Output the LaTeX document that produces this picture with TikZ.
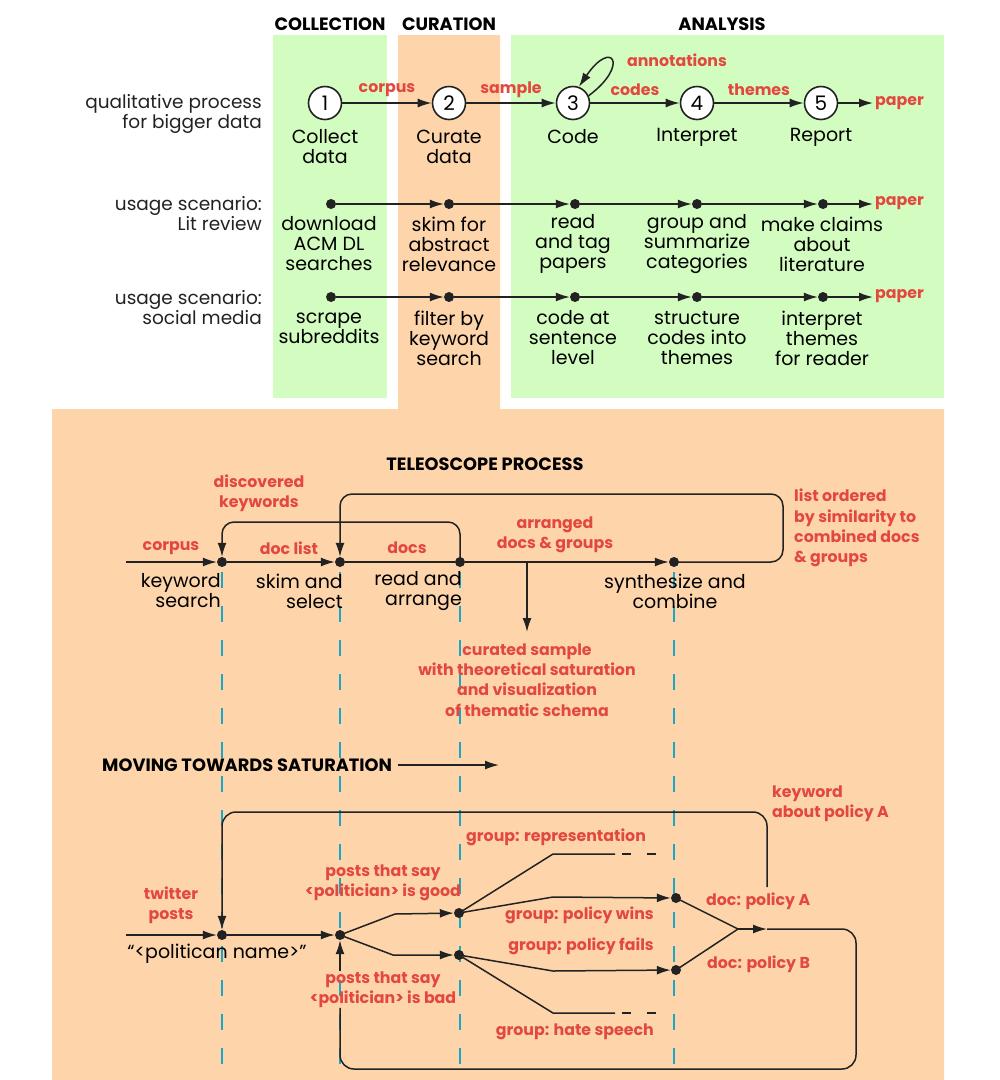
\documentclass[tikz,border=0pt]{standalone}
\usepackage{fontspec}
\setmainfont{Poppins}
\usetikzlibrary{arrows.meta}
\definecolor{grn}{HTML}{D3FCC0}
\definecolor{org}{HTML}{FED5AB}
\definecolor{rd}{HTML}{E2483F}
\definecolor{cy}{HTML}{1BA6C6}
\definecolor{ink}{HTML}{222222}
\tikzset{
  txt/.style={font=\fontsize{19}{20}\selectfont, align=center, inner sep=0pt, text=black},
  side/.style={font=\fontsize{18.5}{20}\selectfont, align=right, inner sep=0pt, anchor=east, text=ink},
  lbl/.style={font=\fontsize{15.8}{20.3}\selectfont\bfseries, text=rd, inner sep=0pt, align=center},
  hdr/.style={font=\fontsize{17.8}{20}\selectfont\bfseries, inner sep=0pt, text=black},
  circ/.style={circle, draw=ink, line width=1.6pt, fill=white, minimum size=33pt, inner sep=0pt, font=\fontsize{20}{20}\selectfont},
  dot/.style={circle, fill=ink, minimum size=10pt, inner sep=0pt},
  arr/.style={draw=ink, -{Latex[length=14pt,width=9pt]}, line width=1.5pt},
  ln/.style={draw=ink, line width=1.5pt},
  cyd/.style={draw=cy, line width=2pt, dash pattern=on 16pt off 18pt},
}
\begin{document}
\begin{tikzpicture}[x=1pt,y=-1pt]
\useasboundingbox (0,0) rectangle (1000,1080);
% backgrounds
\fill[grn] (273,35) rectangle (387,398);
\fill[grn] (511,35) rectangle (944,398);
\fill[org] (398,35) -- (500,35) -- (500,409) -- (944,409) -- (944,1080) -- (52,1080) -- (52,409) -- (398,409) -- cycle;
% headers
\node[hdr] (hcol) at (330,24) {COLLECTION};
\node[hdr] (hcur) at (449,24) {CURATION};
\node[hdr] (hana) at (722,24) {ANALYSIS};
% side labels
\node[side] (s1) at (262,114) {qualitative process\\for bigger data};
\node[side] (s2) at (262,213.5) {usage scenario:\\Lit review};
\node[side] (s3) at (262,307.5) {usage scenario:\\social media};
% row 1
\node[circ] (c1) at (325,103) {1};
\node[circ] (c2) at (449,103) {2};
\node[circ] (c3) at (573,103) {3};
\node[circ] (c4) at (697,103) {4};
\node[circ] (c5) at (821,103) {5};
\node[txt] (c1t) at (325,147) {Collect\\data};
\node[txt] (c2t) at (449,147) {Curate\\data};
\node[txt] (c3t) at (573,137) {Code};
\node[txt] (c4t) at (697,137) {Interpret};
\node[txt] (c5t) at (821,137) {Report};
\draw[arr] (c1) -- (c2);
\draw[arr] (c2) -- (c3);
\draw[arr] (c3) -- (c4);
\draw[arr] (c4) -- (c5);
\draw[arr] (c3.25) .. controls (630,65) and (612,38) .. (c3.70);
\node[lbl] (l1) at (387,90) {corpus};
\node[lbl] (l2) at (511,90) {sample};
\node[lbl] (l3) at (635,90) {codes};
\node[lbl] (l4) at (759,90) {themes};
\node[lbl] (l5) at (677,60) {annotations};
\node[lbl, anchor=west, inner sep=2pt] (p1) at (873,103) {paper};
\coordinate (p1a) at (p1.west |- c5);
\draw[arr] (c5) -- (p1a);
% row 2
\node[dot] (a1) at (331,204) {};
\node[dot] (a2) at (449,204) {};
\node[dot] (a3) at (575,204) {};
\node[dot] (a4) at (697,204) {};
\node[dot] (a5) at (823,204) {};
\node[lbl, anchor=west, inner sep=2pt] (p2) at (873,203) {paper};
\coordinate (p2a) at (p2.west |- a5);
\draw[arr] (a1) -- (a2);
\draw[arr] (a2) -- (a3);
\draw[arr] (a3) -- (a4);
\draw[arr] (a4) -- (a5);
\draw[arr] (a5) -- (p2a);
\node[txt] (a1t) at (329,244) {download\\ACM DL\\searches};
\node[txt] (a2t) at (449,244) {skim for\\abstract\\relevance};
\node[txt] (a3t) at (573,244) {read\\and tag\\papers};
\node[txt] (a4t) at (697,244) {group and\\summarize\\categories};
\node[txt] (a5t) at (822,244) {make claims\\about\\literature};
% row 3
\node[dot] (b1) at (331,297) {};
\node[dot] (b2) at (449,297) {};
\node[dot] (b3) at (575,297) {};
\node[dot] (b4) at (697,297) {};
\node[dot] (b5) at (823,297) {};
\node[lbl, anchor=west, inner sep=2pt] (p3) at (873,296) {paper};
\coordinate (p3a) at (p3.west |- b5);
\draw[arr] (b1) -- (b2);
\draw[arr] (b2) -- (b3);
\draw[arr] (b3) -- (b4);
\draw[arr] (b4) -- (b5);
\draw[arr] (b5) -- (p3a);
\node[txt] (b1t) at (329,328) {scrape\\subreddits};
\node[txt] (b2t) at (449,338) {filter by\\keyword\\search};
\node[txt] (b3t) at (573,338) {code at\\sentence\\level};
\node[txt] (b4t) at (697,338) {structure\\codes into\\themes};
\node[txt] (b5t) at (822,338) {interpret\\themes\\for reader};
% cyan dashed guides
\foreach \x/\n in {222/ga,340/gb,460/gc,674/gd}{
  \coordinate (\n top) at (\x,572);
  \coordinate (\n bot) at (\x,1080);
  \draw[cyd] (\n top) -- (\n bot);
}
% teleoscope
\node[hdr] (tp) at (485,464) {TELEOSCOPE PROCESS};
\coordinate (k0) at (126,562);
\node[dot] (k1) at (222,562) {};
\node[dot] (k2) at (340,562) {};
\node[dot] (k3) at (460,562) {};
\node[dot] (k4) at (674,562) {};
\coordinate (kb) at (527,562);
\coordinate (kbe) at (527,632);
\draw[arr] (k0) -- (k1);
\draw[arr] (k1) -- (k2);
\draw[ln] (k2) -- (k3);
\draw[arr] (k3) -- (k4);
\draw[arr] (kb) -- (kbe);
\draw[arr, rounded corners=12pt] (k3.center) -- (460,522) -- (222,522) -- (k1.north);
\draw[arr, rounded corners=12pt] (k4.center) -- (783,562) -- (783,494) -- (340,494) -- (k2.north);
\node[lbl] (kl1) at (171,548) {corpus};
\node[lbl] (kl2) at (289,548) {doc list};
\node[lbl] (kl3) at (407,548) {docs};
\node[lbl] (kl4) at (555,535) {arranged\\docs \& groups};
\node[lbl] (kl5) at (259,493) {discovered\\keywords};
\node[lbl, align=left, anchor=west] (kl6) at (794,528) {list ordered\\by similarity to\\combined docs\\\& groups};
\node[lbl] (kl7) at (527,680) {curated sample\\with theoretical saturation\\and visualization\\of thematic schema};
\node[txt, align=right, anchor=east] (k1t) at (221,591) {keyword\\search};
\node[txt, align=right, anchor=east] (k2t) at (343,591) {skim and\\select};
\node[txt, align=right, anchor=east] (k3t) at (462,591) {read and\\arrange};
\node[txt] (k4t) at (675,591) {synthesize and\\combine};
% moving towards saturation
\node[hdr, anchor=west] (mv) at (102,765) {MOVING TOWARDS SATURATION};
\coordinate (mve) at (499,765);
\draw[arr] ([xshift=6pt]mv.east) -- (mve);
% lower graph
\coordinate (t0) at (126,935);
\node[dot] (t1) at (222,935) {};
\node[dot] (t2) at (340,935) {};
\node[dot] (g1) at (459,913) {};
\node[dot] (g2) at (459,955) {};
\node[dot] (dA) at (676,898) {};
\node[dot] (dB) at (676,970) {};
\coordinate (j) at (738,929);
\coordinate (jt) at (767,929);
\draw[arr] (t0) -- (t1);
\draw[arr] (t1) -- (t2);
\draw[arr] (t2.center) -- (395,914) -- (g1);
\draw[arr] (t2.center) -- (393,955) -- (g2);
\coordinate (r1e) at (615,854);
\coordinate (r4e) at (615,1013);
\draw[ln] (g1.center) -- (553,854) -- (r1e);
\draw[ln, dash pattern=on 9pt off 16pt] (622,854) -- (656,854);
\draw[arr] (g1.center) -- (553,897) -- (dA);
\draw[arr] (g2.center) -- (553,971) -- (dB);
\draw[ln] (g2.center) -- (553,1013) -- (r4e);
\draw[ln, dash pattern=on 9pt off 16pt] (622,1013) -- (656,1013);
\draw[ln] (dA.center) -- (j);
\draw[ln] (dB.center) -- (j);
\draw[arr] (j) -- (jt);
\node[txt] (tn) at (217,954) {“<politican name>”};
\node[lbl] (tw) at (171,905) {twitter\\posts};
\node[lbl] (pg) at (383,883) {posts that say\\<politician> is good};
\node[lbl] (pb) at (383,989.5) {posts that say\\<politician> is bad};
\coordinate (pbn) at (t2 |- pb.north);
\coordinate (pbs) at (t2 |- pb.south);
\draw[arr] (pbn) -- (t2);
\draw[ln, rounded corners=14pt] (jt) -- (856,929) -- (856,1069) -- (340,1069) -- (pbs);
\coordinate (kwA) at (767,887);
\draw[arr, rounded corners=14pt] (kwA) -- (767,812) -- (222,812) -- (t1.north);
\node[lbl, align=left, anchor=west] (kwl) at (772,804) {keyword\\about policy A};
\node[lbl, anchor=west] (gr1) at (466,837) {group: representation};
\node[lbl, anchor=east] (gr2) at (654,915) {group: policy wins};
\node[lbl, anchor=east] (gr3) at (654,946) {group: policy fails};
\node[lbl, anchor=east] (gr4) at (654,1032) {group: hate speech};
\node[lbl, anchor=west] (dAl) at (706,901) {doc: policy A};
\node[lbl, anchor=west] (dBl) at (707,964) {doc: policy B};
\end{tikzpicture}
\end{document}
